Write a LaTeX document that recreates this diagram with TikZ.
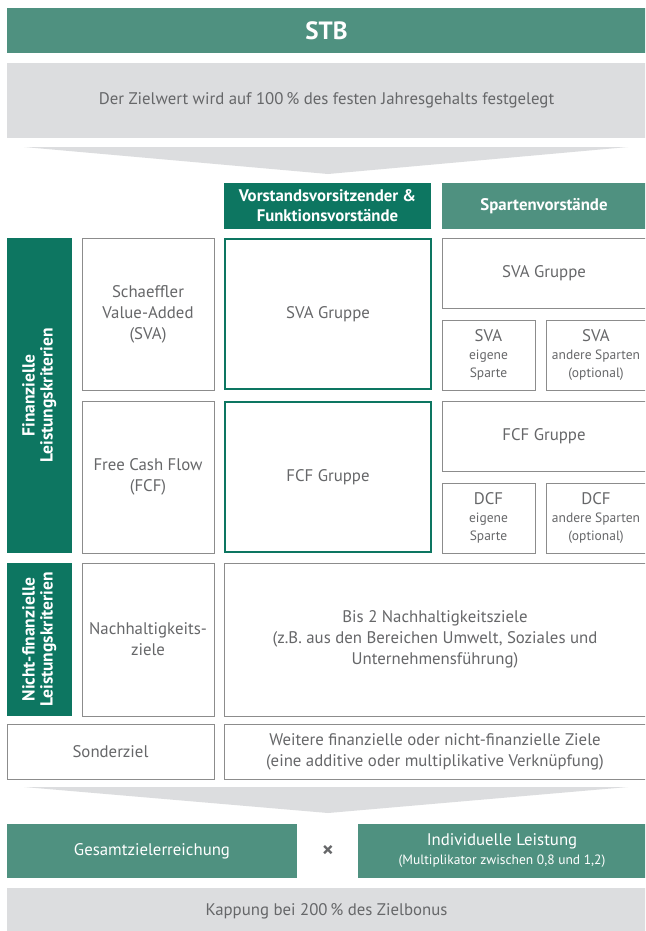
\documentclass[tikz,border=0pt]{standalone}
\usepackage{fontspec}
\setmainfont{PT Sans}
\definecolor{stbgreen}{HTML}{4F9180}
\definecolor{darkgreen}{HTML}{0D7661}
\definecolor{lightgray}{HTML}{DCDDDF}
\definecolor{linegray}{HTML}{8C8C8C}
\definecolor{textgray}{HTML}{666769}
\newcommand{\smalltext}[1]{{\fontsize{13.5}{19.5}\selectfont #1}}
\tikzset{
  box/.style={draw=linegray, line width=0.9pt, fill=white, text=textgray, align=center, inner sep=0pt, font=\fontsize{16.8}{21}\selectfont},
  greenbox/.style={draw=darkgreen, line width=1.8pt, fill=white, text=textgray, align=center, inner sep=0pt, font=\fontsize{16.8}{21}\selectfont},
  grayband/.style={fill=lightgray, text=textgray, align=center, inner sep=0pt, font=\fontsize{16.8}{21}\selectfont},
  greenband/.style={fill=stbgreen, text=white, align=center, inner sep=0pt, font=\fontsize{16.8}{21}\selectfont},
  sidebar/.style={fill=darkgreen, text=white, align=center, inner sep=0pt, font=\bfseries\fontsize{17.5}{20}\selectfont},
  header/.style={fill=darkgreen, text=white, align=center, inner sep=0pt, font=\bfseries\fontsize{16.8}{20}\selectfont}
}
\begin{document}
\begin{tikzpicture}[x=1pt, y=-1pt]
        \useasboundingbox (0,0) rectangle (645,931);
        \clip (0,0) rectangle (645,931);
        \fill[white] (0,0) rectangle (645,931);

        % top
        \node[greenband, minimum width=639pt, minimum height=45pt, font=\bfseries\fontsize{25}{28}\selectfont] (stb) at (326.5,30.5) {STB};
        \node[grayband, minimum width=639pt, minimum height=75pt] (ziel) at (326.5,100.5) {Der Zielwert wird auf 100\,\% des festen Jahresgehalts festgelegt};
        \fill[lightgray] (24,147) -- (628,147) -- (328,174) -- cycle;

        % headers
        \node[header, minimum width=207pt, minimum height=46pt] (vorstand) at (327.5,206) {Vorstandsvorsitzender \&\\Funktionsvorstände};
        \node[header, fill=stbgreen, minimum width=204pt, minimum height=46pt] (sparten) at (544,206) {Spartenvorstände};

        % financial criteria
        \node[sidebar, minimum width=65pt, minimum height=315pt] (fin) at (39.5,395.5) {\rotatebox{90}{\begin{tabular}{@{}c@{}}Finanzielle\\[-2pt]Leistungskriterien\end{tabular}}};
        \node[box, minimum width=132pt, minimum height=152pt] (sva) at (148,314) {Schaeffler\\Value-Added\\(SVA)};
        \node[greenbox, minimum width=206pt, minimum height=150pt] (svagruppe) at (328,314) {SVA Gruppe};
        \node[box, minimum width=204pt, minimum height=70pt] (svagruppe2) at (544,273) {SVA Gruppe};
        \node[box, minimum width=93pt, minimum height=70pt] (svaeigen) at (488.5,355) {SVA\\[-3pt]\smalltext{eigene}\\[-3pt]\smalltext{Sparte}};
        \node[box, minimum width=100pt, minimum height=70pt] (svaandere) at (596,355) {SVA\\[-3pt]\smalltext{andere Sparten}\\[-3pt]\smalltext{(optional)}};

        \node[box, minimum width=132pt, minimum height=152pt] (fcf) at (148,477) {Free Cash Flow\\(FCF)};
        \node[greenbox, minimum width=206pt, minimum height=150pt] (fcfgruppe) at (328,477) {FCF Gruppe};
        \node[box, minimum width=204pt, minimum height=70pt] (fcfgruppe2) at (544,436) {FCF Gruppe};
        \node[box, minimum width=93pt, minimum height=70pt] (dcfeigen) at (488.5,518) {DCF\\[-3pt]\smalltext{eigene}\\[-3pt]\smalltext{Sparte}};
        \node[box, minimum width=100pt, minimum height=70pt] (dcfandere) at (596,518) {DCF\\[-3pt]\smalltext{andere Sparten}\\[-3pt]\smalltext{(optional)}};

        % non-financial criteria
        \node[sidebar, minimum width=65pt, minimum height=153pt] (nfin) at (39.5,639.5) {\rotatebox{90}{\begin{tabular}{@{}c@{}}Nicht-finanzielle\\[-2pt]Leistungskriterien\end{tabular}}};
        \node[box, minimum width=132pt, minimum height=153pt] (nach) at (148,639.5) {Nachhaltigkeits-\\ziele};
        \node[box, minimum width=422pt, minimum height=153pt] (bis) at (435,639.5) {Bis 2 Nachhaltigkeitsziele\\(z.B. aus den Bereichen Umwelt, Soziales und\\Unternehmensführung)};

        % special target
        \node[box, minimum width=207pt, minimum height=55pt] (sonder) at (110.5,751.5) {Sonderziel};
        \node[box, minimum width=422pt, minimum height=55pt] (weitere) at (435,751.5) {Weitere finanzielle oder nicht-finanzielle Ziele\\(eine additive oder multiplikative Verknüpfung)};
        \fill[lightgray] (24,787) -- (628,787) -- (328,813) -- cycle;

        % result
        \node[greenband, minimum width=290pt, minimum height=54pt] (gesamt) at (152,851) {Gesamtzielerreichung};
        \node[text=textgray, font=\bfseries\fontsize{22}{24}\selectfont] (mal) at (328,851) {×};
        \node[greenband, minimum width=288pt, minimum height=54pt] (indiv) at (502,851) {Individuelle Leistung\\[-2pt]\smalltext{(Multiplikator zwischen 0,8 und 1,2)}};
        \node[grayband, minimum width=639pt, minimum height=46pt] (kappung) at (326.5,911) {Kappung bei 200\,\% des Zielbonus};

    \end{tikzpicture}
\end{document}
